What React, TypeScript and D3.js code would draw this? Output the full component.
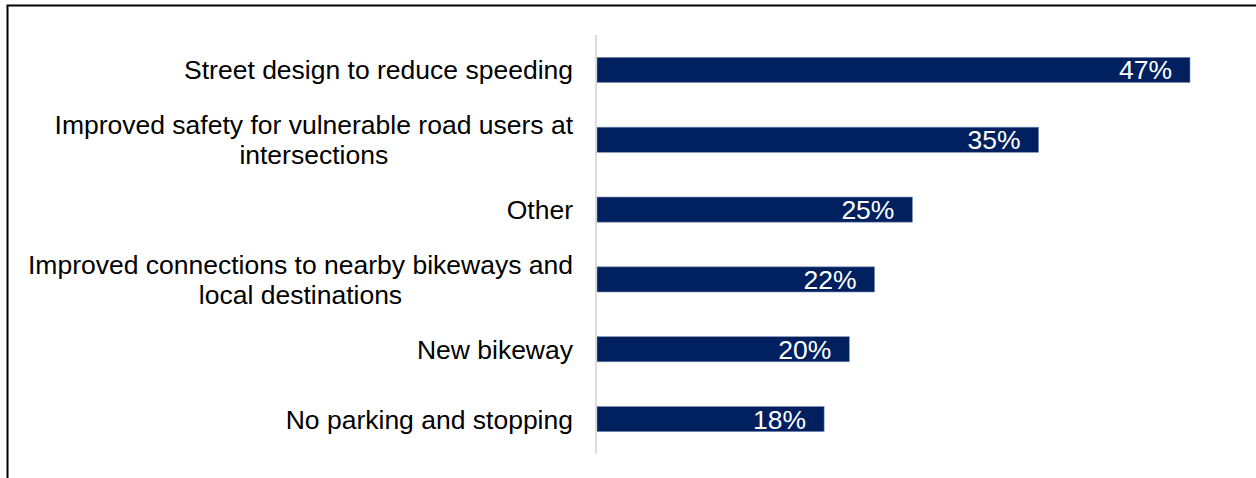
import React from "react";
import * as d3 from "d3";

const categories: string[][] = [
  ["Street design to reduce speeding"],
  ["Improved safety for vulnerable road users at", "intersections"],
  ["Other"],
  ["Improved connections to nearby bikeways and", "local destinations"],
  ["New bikeway"],
  ["No parking and stopping"],
];
const values: number[] = [47, 35, 25, 22, 20, 18];
const valueLabels: string[] = ["47%", "35%", "25%", "22%", "20%", "18%"];

const FONT_FAMILY = "'Liberation Sans', Arial, sans-serif";
const FONT_SIZE = 26.5;

function measure(text: string): number {
  const c = document.createElement("canvas");
  const ctx = c.getContext("2d")!;
  ctx.font = `${FONT_SIZE}px ${FONT_FAMILY}`;
  return ctx.measureText(text).width;
}

export default function App() {
  const W = 1256;
  const H = 478;
  const x0 = 597;
  const labelRight = 573;
  const x = d3.scaleLinear().domain([0, 47]).range([x0, 1190]);
  const y = d3
    .scaleBand<number>()
    .domain(d3.range(categories.length))
    .range([35, 454])
    .paddingInner(0.64)
    .paddingOuter(0.32);
  return (
    <svg
      width={W}
      height={H}
      style={{ position: "absolute", left: 0, top: 0, background: "#fff" }}
    >
      <path d={`M7.5,${H} V5.5 H${W}`} fill="none" stroke="#000" strokeWidth={2} />
      {values.map((v, i) => {
        const by = y(i)!;
        const bh = y.bandwidth();
        const cy = by + bh / 2;
        const lines = categories[i];
        const lh = 30;
        const maxW = Math.max(...lines.map(measure));
        const center = labelRight - maxW / 2;
        return (
          <g key={i}>
            <rect
              x={x0}
              y={by}
              width={x(v) - x0}
              height={bh}
              fill="#002060"
              stroke="#7f8fb0"
              strokeWidth={0.6}
            />
            <text
              x={x(v) - 18}
              y={cy}
              dy="0.36em"
              textAnchor="end"
              fill="#fff"
              fontFamily={FONT_FAMILY}
              fontSize={FONT_SIZE}
            >
              {valueLabels[i]}
            </text>
            {lines.map((l, j) => (
              <text
                key={j}
                x={lines.length > 1 ? center : labelRight}
                y={cy + (j - (lines.length - 1) / 2) * lh}
                dy="0.36em"
                textAnchor={lines.length > 1 ? "middle" : "end"}
                fill="#000"
                fontFamily={FONT_FAMILY}
                fontSize={FONT_SIZE}
              >
                {l}
              </text>
            ))}
          </g>
        );
      })}
      <line x1={596} x2={596} y1={35} y2={454} stroke="#d0d0d0" strokeWidth={1.5} />
    </svg>
  );
}
